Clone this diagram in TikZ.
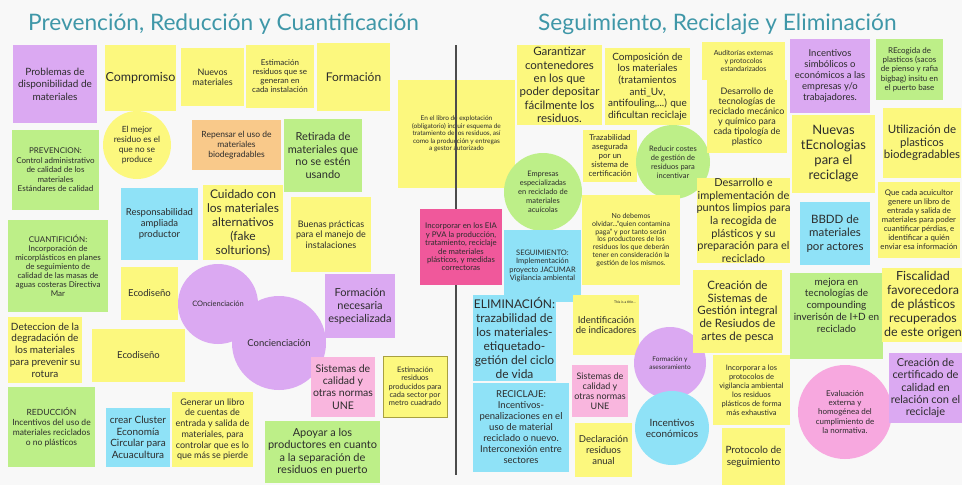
\documentclass[tikz,border=0pt]{standalone}
\usepackage{fontspec}
\setmainfont{Lato}
\definecolor{bgc}{HTML}{F8F8F8}
\definecolor{yl}{HTML}{FCF87E}
\definecolor{gr}{HTML}{BDEF88}
\definecolor{pu}{HTML}{DBA9F2}
\definecolor{bl}{HTML}{8FE2F7}
\definecolor{pk}{HTML}{F9B6DE}
\definecolor{mg}{HTML}{F0589B}
\definecolor{org}{HTML}{F9C98A}
\definecolor{evp}{HTML}{F7A8DF}
\definecolor{txt}{HTML}{2C2C2C}
\definecolor{ttl}{HTML}{3F97A8}
\definecolor{brd}{HTML}{A8A040}
\newcommand\fs[2]{\fontsize{#1}{#2}\selectfont}
\tikzset{
  notebox/.style={inner sep=0pt, outer sep=0pt, draw=none},
  notetext/.style={inner sep=0pt, align=center, text=txt},
  divider/.style={draw=black!70, line width=1.3pt},
  titletext/.style={text=ttl, font=\fs{22.7}{26}, anchor=west, inner sep=0pt}
}
% [text opts]{name}{colour}{x1}{y1}{x2}{y2}{font}{text}
\newcommand\stick[9][]{%
  \node[notebox, fill=#3, minimum width={(#6-#4)*1pt}, minimum height={(#7-#5)*1pt}] (#2) at ({(#4+#6)/2},{(#5+#7)/2}) {};
  \node[notetext, font=#8, #1] (#2t) at (#2.center) {#9};
}
% [text opts]{name}{colour}{cx}{cy}{r}{font}{text}
\newcommand\blob[8][]{%
  \node[notebox, circle, fill=#3, minimum size={(2*#6)*1pt}] (#2) at (#4,#5) {};
  \node[notetext, font=#7, #1] (#2t) at (#2.center) {#8};
}
\begin{document}
\begin{tikzpicture}[x=1pt,y=-1pt]
\useasboundingbox (0,0) rectangle (962,485);
\clip (0,0) rectangle (962,485);
\fill[bgc] (0,0) rectangle (962,485);

% titles
\node[titletext] (t1) at (28,24) {Prevención, Reducción y Cuantificación};
\node[titletext] (t2) at (538,24) {Seguimiento, Reciclaje y Eliminación};

% ---------- left half ----------
\stick{prob}{pu}{13}{45}{97}{123}{\fs{10}{12.5}}{Problemas de\\disponibilidad de\\materiales}
\stick{comp}{yl}{105}{45}{176}{111}{\fs{12.5}{15}}{Compromiso}
\stick{nuev}{yl}{181}{48}{244}{106}{\fs{9}{10}}{Nuevos\\materiales}
\stick{estg}{yl}{246}{45}{314}{108}{\fs{8}{9}}{Estimación\\residuos que se\\generan en\\cada instalación}
\stick{form}{yl}{317}{43}{390}{111}{\fs{12}{14}}{Formación}
\stick{prev}{gr}{12}{130}{99}{210}{\fs{8}{9.5}}{PREVENCION:\\Control administrativo\\de calidad de los\\materiales\\Estándares de calidad}
\blob{mejor}{yl}{137}{145}{34}{\fs{8.5}{10}}{El mejor\\residuo es el\\que no se\\produce}
\stick{rep}{org}{192}{120}{281}{170}{\fs{8.5}{10}}{Repensar el uso de\\materiales\\biodegradables}
\stick{ret}{gr}{284}{119}{362}{192}{\fs{11}{12.7}}{Retirada de\\materiales que\\no se estén\\usando}
\stick{resp}{bl}{121}{188}{198}{260}{\fs{9.5}{10.7}}{Responsabilidad\\ampliada\\productor}
\stick{cuid}{yl}{203}{185}{283}{260}{\fs{12}{14}}{Cuidado con\\los materiales\\alternativos\\(fake\\solturions)}
\stick{buen}{yl}{291}{197}{371}{272}{\fs{9}{10.7}}{Buenas prácticas\\para el manejo de\\instalaciones}
\stick{cuan}{gr}{8}{220}{108}{312}{\fs{8}{9}}{CUANTIFICIÓN:\\Incorporación de\\micorplásticos en planes\\de seguimiento de\\calidad de las masas de\\aguas costeras Directiva\\Mar}
\blob{conca}{pu}{218}{304}{40}{\fs{7.5}{9}}{COncienciación}
\blob{concb}{pu}{279}{343}{47}{\fs{9.5}{11}}{Concienciación}
\stick{ecoa}{yl}{121}{267}{178}{320}{\fs{9.5}{11}}{Ecodiseño}
\stick{fne}{pu}{325}{274}{395}{338}{\fs{11}{13}}{Formación\\necesaria\\especializada}
\stick{det}{yl}{8}{317}{82}{383}{\fs{10}{11.7}}{Deteccion de la\\degradación de\\los materiales\\para prevenir su\\rotura}
\stick{ecob}{yl}{92}{329}{185}{382}{\fs{9.5}{11}}{Ecodiseño}
\stick{sisa}{pk}{311}{357}{375}{417}{\fs{10.5}{12.3}}{Sistemas de\\calidad y\\otras normas\\UNE}
\stick{estp}{yl}{383}{356}{447}{417}{\fs{7.5}{8.3}}{Estimación\\residuos\\producidos para\\cada sector por\\metro cuadrado}
\draw[brd, line width=0.8pt] (estp.north west) rectangle (estp.south east);
\stick{red}{gr}{8}{387}{95}{467}{\fs{8.5}{10}}{REDUCCIÓN\\Incentivos del uso de\\materiales reciclados\\o no plásticos}
\stick{clus}{bl}{106}{408}{170}{467}{\fs{10}{11.7}}{crear Cluster\\Economía\\Circular para\\Acuacultura}
\stick{gen}{yl}{172}{392}{253}{467}{\fs{9}{10.7}}{Generar un  libro\\de cuentas de\\entrada y salida de\\materiales, para\\controlar que es lo\\que más se pierde}
\stick{apo}{gr}{265}{421}{380}{483}{\fs{11}{12.3}}{Apoyar a los\\productores en cuanto\\a la separación de\\residuos en puerto}

% ---------- centre ----------
\stick{libro}{yl}{398}{80}{515}{188}{\fs{6.5}{7.5}}{En el libro de explotación\\(obligatorio) incluir esquema de\\tratamiento de los residuos, así\\como la producción  y entregas\\a gestor autorizado}
\coordinate (ltop) at (456,45);
\coordinate (lbot) at (456,475);
\draw[divider] (ltop) -- (lbot);
\stick{inc}{mg}{420}{209}{502}{285}{\fs{7.8}{8.4}}{Incorporar en los EIA\\y PVA la producción,\\tratamiento, reciclaje\\de materiales\\plásticos, y medidas\\correctoras}

% ---------- right half ----------
\stick{gar}{yl}{517}{45}{602}{125}{\fs{11.5}{13.3}}{Garantizar\\contenedores\\en los que\\poder depositar\\fácilmente los\\residuos.}
\stick{compo}{yl}{605}{48}{690}{125}{\fs{10}{11.7}}{Composición de\\los materiales\\(tratamientos\\anti\_Uv,\\antifouling,...) que\\dificultan reciclaje}
\stick{traz}{yl}{583}{130}{637}{182}{\fs{8}{9}}{Trazabilidad\\asegurada\\por un\\sistema de\\certificación}
\blob{redc}{gr}{673}{162}{37}{\fs{7.5}{9}}{Reducir costes\\de gestión de\\residuos para\\incentivar}
\blob{emp}{gr}{543}{192}{39}{\fs{7.5}{9}}{Empresas\\especializadas\\en reciclado de\\materiales\\acuícolas}
\stick{seg}{bl}{504}{230}{581}{302}{\fs{7.5}{8.3}}{SEGUIMIENTO:\\Implementación\\proyecto JACUMAR\\Vigilancia ambiental}
\stick{nod}{yl}{582}{195}{680}{285}{\fs{7}{7.7}}{No debemos\\olvidar...“quien contamina\\paga” y por tanto serán\\los productores de los\\residuos los que deberán\\tener en consideración la\\gestión de los mismos.}
\stick{elim}{bl}{473}{295}{556}{381}{\fs{12}{14}}{ELIMINACIÓN:\\trazabilidad de\\los materiales-\\etiquetado-\\getión del ciclo\\de vida}
\stick{recic}{bl}{473}{383}{569}{472}{\fs{9.5}{11}}{RECICLAJE:\\Incentivos-\\penalizaciones en el\\uso de material\\reciclado o nuevo.\\Interconexión entre\\sectores}
\stick{ident}{yl}{573}{295}{639}{355}{\fs{9.5}{10.5}}{Identificación\\de indicadores}
\node[notetext, font=\fs{3.5}{4}, anchor=north east] (identsm) at ([xshift=-3pt,yshift=-6pt]ident.north east) {This is a title...};
\blob{fya}{pu}{670}{363}{36}{\fs{6.5}{7.3}}{Formación y\\asesoramiento}
\blob{ince}{bl}{672}{428}{37}{\fs{10}{11}}{Incentivos\\económicos}
\stick{sisb}{pk}{572}{365}{628}{417}{\fs{9}{10}}{Sistemas de\\calidad y\\otras normas\\UNE}
\stick{decl}{yl}{575}{423}{632}{477}{\fs{9.5}{11}}{Declaración\\residuos\\anual}
\stick{aud}{yl}{702}{42}{785}{80}{\fs{7}{7.7}}{Auditorías externas\\y protocolos\\estandarizados}
\stick{dtec}{yl}{707}{80}{787}{153}{\fs{9}{10}}{Desarrollo de\\tecnologías de\\reciclado mecánico\\y químico para\\cada tipología de\\plastico}
\stick{isim}{pu}{790}{39}{870}{113}{\fs{9.5}{11}}{Incentivos\\simbólicos o\\económicos a las\\empresas y/o\\trabajadores.}
\stick{rec}{gr}{876}{39}{943}{100}{\fs{8}{9.3}}{REcogida de\\plasticos (sacos\\de pienso y rafia\\bigbag) insitu en\\el puerto base}
\stick{nuevt}{yl}{792}{115}{875}{193}{\fs{13}{15}}{Nuevas\\tEcnologias\\para el\\reciclage}
\stick{util}{yl}{883}{108}{961}{178}{\fs{11.5}{12.3}}{Utilización de\\plasticos\\biodegradables}
\stick{dimp}{yl}{697}{178}{790}{263}{\fs{11}{12.7}}{Desarrollo e\\implementación de\\puntos limpios para\\la recogida de\\plásticos y su\\preparación para el\\reciclado}
\stick{bbdd}{bl}{800}{202}{870}{265}{\fs{11.5}{13.3}}{BBDD de\\materiales\\por actores}
\stick{qca}{yl}{878}{182}{960}{258}{\fs{7.8}{9}}{Que cada acuicultor\\genere un libro de\\entrada y salida de\\materiales para poder\\cuantificar pérdias, e\\identificar a quién\\enviar esa información}
\stick{csis}{yl}{693}{270}{782}{353}{\fs{11.5}{12.7}}{Creación de\\Sistemas de\\Gestión integral\\de Resiudos de\\artes de pesca}
\stick[yshift=11pt]{mej}{gr}{790}{273}{883}{359}{\fs{10}{11.7}}{mejora en\\tecnologías de\\compounding\\inverisón de I+D en\\reciclado}
\stick{fisc}{yl}{882}{268}{964}{342}{\fs{12.5}{14}}{Fiscalidad\\favorecedora\\de plásticos\\recuperados\\de este origen}
\stick{iprot}{yl}{713}{355}{790}{425}{\fs{7.5}{9}}{Incorporar a los\\protocolos de\\vigilancia ambiental\\los residuos\\plásticos de forma\\más exhaustiva}
\stick{pseg}{yl}{722}{428}{785}{485}{\fs{10}{11.7}}{Protocolo de\\seguimiento}
\blob{eval}{evp}{845}{412}{47}{\fs{8}{9.3}}{Evaluación\\externa y\\homogénea del\\cumplimiento de\\la normativa.}
\stick{ccert}{pu}{889}{353}{962}{423}{\fs{11}{12.3}}{Creación de\\certificado de\\calidad en\\relación con el\\reciclaje}
\end{tikzpicture}
\end{document}
